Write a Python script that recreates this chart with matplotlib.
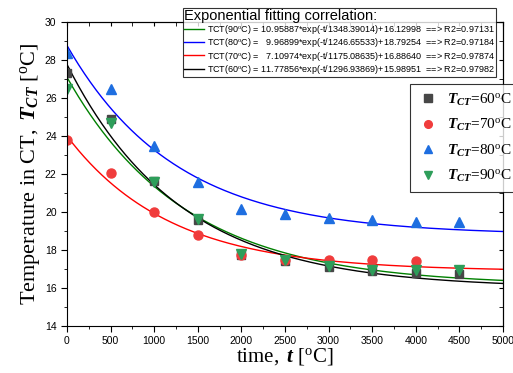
import numpy as np
import matplotlib
matplotlib.use('Agg')
import matplotlib.pyplot as plt
from matplotlib.ticker import MultipleLocator

plt.rcParams['font.family'] = 'Liberation Sans'
plt.rcParams['mathtext.fontset'] = 'custom'
plt.rcParams['mathtext.rm'] = 'Liberation Serif'
plt.rcParams['mathtext.it'] = 'Liberation Serif:italic'
plt.rcParams['mathtext.bf'] = 'Liberation Serif:italic:bold'

# measured points
t = [0, 500, 1000, 1500, 2000, 2500, 3000, 3500, 4000, 4500]
t_red = [0, 500, 1000, 1500, 2000, 2500, 3000, 3500, 4000]
tct60 = [27.3, 24.9, 21.65, 19.6, 17.75, 17.4, 17.08, 16.9, 16.8, 16.75]
tct70 = [23.8, 22.07, 20.0, 18.8, 17.75, 17.5, 17.45, 17.45, 17.42]
tct80 = [28.35, 26.47, 23.47, 21.6, 20.16, 19.9, 19.68, 19.56, 19.45, 19.45]
tct90 = [26.5, 24.7, 21.6, 19.65, 17.8, 17.5, 17.17, 16.96, 16.96, 16.95]

# exponential fit parameters (A, tau, y0) as printed on the chart
fit_labels = ['90', '80', '70', '60']
fit_A = [10.95887, 9.96899, 7.10974, 11.77856]
fit_tau = [1348.39014, 1246.65533, 1175.08635, 1296.93869]
fit_y0 = [16.12998, 18.79254, 16.88640, 15.98951]
fit_r2 = [0.97131, 0.97184, 0.97874, 0.97982]
fit_colors = ['green', 'blue', 'red', 'black']

fig = plt.figure(figsize=(5.13, 3.73), dpi=100)
ax = fig.add_axes([67/513, 1-326/373, (503-67)/513, (326-22)/373])

tt = np.linspace(0, 5000, 300)
fit_handles = []
for lab, A, tau, y0, r2, c in zip(fit_labels, fit_A, fit_tau, fit_y0, fit_r2, fit_colors):
    h, = ax.plot(tt, A*np.exp(-tt/tau) + y0, color=c, lw=1)
    txt = 'TCT(%s$^{\\rm o}$C) = %s*exp(-t/%.5f)+%.5f  ==> R2=%.5f' % (
        lab, ('%.5f' % A).rjust(8).replace(' ', '  '), tau, y0, r2)
    h.set_label(txt)
    fit_handles.append(h)

ms = 6.5
p60, = ax.plot(t, tct60, 's', color='#474747', ms=ms-0.5, ls='none')
p70, = ax.plot(t_red, tct70, 'o', color='#f03c3c', ms=ms, ls='none')
p80, = ax.plot(t, tct80, '^', color='#1e6ee0', ms=ms+0.5, ls='none')
p90, = ax.plot(t, tct90, 'v', color='#2e9e5a', ms=ms+0.5, ls='none')

ax.set_xlim(0, 5000)
ax.set_ylim(14, 30)
ax.xaxis.set_major_locator(MultipleLocator(500))
ax.xaxis.set_minor_locator(MultipleLocator(250))
ax.yaxis.set_major_locator(MultipleLocator(2))
ax.yaxis.set_minor_locator(MultipleLocator(1))
ax.tick_params(which='both', labelsize=7.5, direction='out', top=False, right=False)
ax.tick_params(which='major', length=4)
ax.tick_params(which='minor', length=2.5)
sec = ax.secondary_xaxis('top')
sec.xaxis.set_major_locator(MultipleLocator(500))
sec.xaxis.set_minor_locator(MultipleLocator(250))
sec.tick_params(which='both', labeltop=False, direction='in', length=3)
secy = ax.secondary_yaxis('right')
secy.yaxis.set_major_locator(MultipleLocator(2))
secy.yaxis.set_minor_locator(MultipleLocator(1))
secy.tick_params(which='both', labelright=False, direction='in', length=3)

ax.set_xlabel(r'$\rm time,\ \mathbf{t}\ [^{o}C]$', fontsize=15, labelpad=0)
ax.set_ylabel(r'$\rm Temperature\ in\ CT,\ \mathbf{T}_{\mathbf{CT}}\ [^{o}C]$', fontsize=16, labelpad=1)

leg1 = fig.legend(handles=fit_handles, loc='upper left',
                  bbox_to_anchor=(183/513, 1-8/373), fontsize=6.5,
                  title='Exponential fitting correlation:', title_fontsize=10.5,
                  frameon=True, fancybox=False, edgecolor='black',
                  handlelength=2.2, handletextpad=0.3, labelspacing=0.02,
                  borderpad=0.12, borderaxespad=0)
leg1._legend_box.align = 'left'
leg1.get_frame().set_linewidth(0.8)

ct_labels = [r'$\mathbf{T}_{\mathbf{CT}}$=%s$^{\rm o}$C' % v for v in ['60', '70', '80', '90']]
leg2 = fig.legend(handles=[p60, p70, p80, p90], labels=ct_labels,
                  loc='upper left', bbox_to_anchor=(410/513, 1-84/373),
                  prop={'family': 'Liberation Serif', 'size': 11},
                  frameon=True, fancybox=False, edgecolor='black',
                  handlelength=1.4, handletextpad=0.5, labelspacing=0.62,
                  borderpad=0.5, borderaxespad=0, markerscale=0.85)
leg2.get_frame().set_linewidth(0.8)

fig.savefig('out.png', dpi=100)
